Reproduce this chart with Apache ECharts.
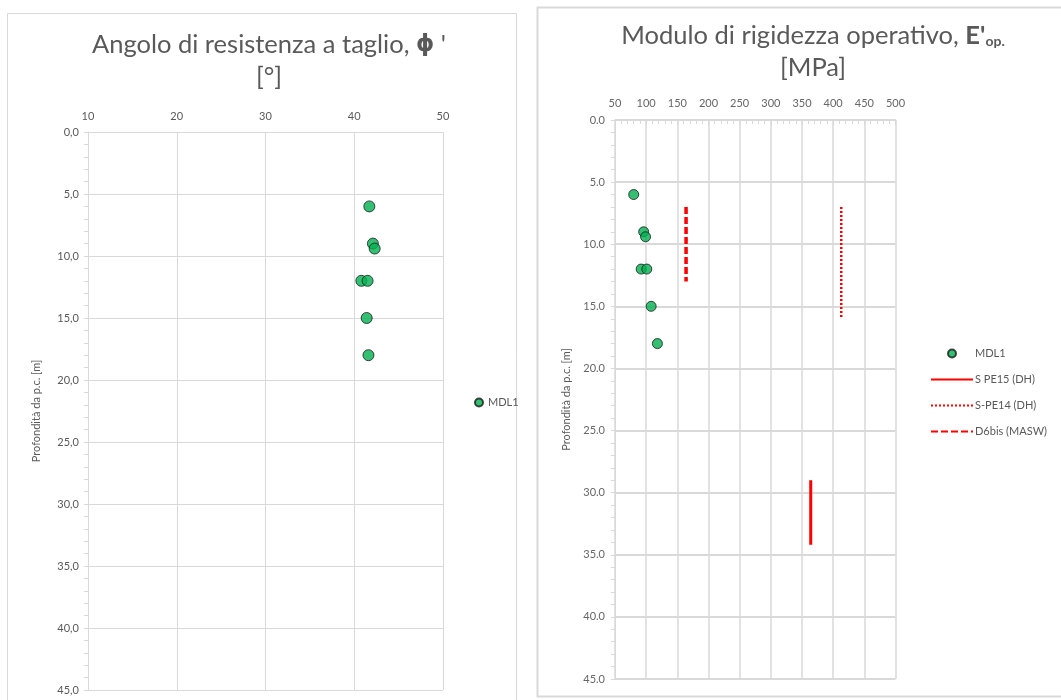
<!DOCTYPE html>
<html><head><meta charset="utf-8">
<script src="https://cdn.jsdelivr.net/npm/echarts@6/dist/echarts.min.js"></script>
<style>html,body{margin:0;padding:0;background:#fff}#c{width:1061px;height:700px}</style>
</head><body><div id="c"></div>
<script>
// ---- data ----
const phiDepth = [6.0, 9.0, 9.4, 12.0, 12.0, 15.0, 18.0];
const phiValues = [41.7, 42.1, 42.3, 40.8, 41.5, 41.4, 41.6];
const eDepth = [6.0, 9.0, 9.4, 12.0, 12.0, 15.0, 18.0];
const eValues = [80, 96, 99, 92, 101, 108, 118];
const spe15E = [364, 364];
const spe15Depth = [29, 34.2];
const spe14E = [413, 413];
const spe14Depth = [7, 16];
const d6bisE = [164, 164];
const d6bisDepth = [7, 13];
const seriesNames = ['MDL1', 'S PE15 (DH)', 'S-PE14 (DH)', 'D6bis (MASW)'];
const yAxisName = 'Profondità da p.c. [m]';

const pairs = (xs, ys) => xs.map((x, i) => [x, ys[i]]);

const GRID = '#d9d9d9';
const TXT = '#595959';
const FONT = 'Lato';
const TFS = 25.5;

const chart = echarts.init(document.getElementById('c'), null, {renderer: 'canvas'});
chart.setOption({
  animation: false,
  backgroundColor: '#fff',
  textStyle: {fontFamily: FONT},
  graphic: [
    {type: 'rect', shape: {x: 7.5, y: 13.5, width: 509, height: 700}, style: {fill: 'none', stroke: GRID, lineWidth: 1}, z: -1},
    {type: 'rect', shape: {x: 537.5, y: 7.5, width: 540, height: 689}, style: {fill: 'none', stroke: GRID, lineWidth: 2}, z: -1}
  ],
  title: [
    {
      text: "Angolo di resistenza a taglio, {b|ϕ} '\n[°]",
      left: 269, top: 29, textAlign: 'center', padding: 0,
      textStyle: {fontFamily: FONT, fontSize: TFS, fontWeight: 'normal', color: TXT, lineHeight: 32,
        rich: {b: {fontFamily: 'DejaVu Sans', fontWeight: 'bold', fontSize: 23, color: TXT, lineHeight: 32}}}
    },
    {
      text: "Modulo di rigidezza operativo, {b|E'}{s|op.}\n[MPa]",
      left: 813, top: 20, textAlign: 'center', padding: 0,
      textStyle: {fontFamily: FONT, fontSize: TFS, fontWeight: 'normal', color: TXT, lineHeight: 32,
        rich: {
          b: {fontFamily: FONT, fontWeight: 'bold', fontSize: TFS, color: TXT, lineHeight: 32},
          s: {fontFamily: FONT, fontWeight: 'bold', fontSize: 14, color: TXT, lineHeight: 32, padding: [11, 0, 0, 0]}
        }}
    }
  ],
  legend: [
    {
      data: ['MDL1'], orient: 'vertical', left: 474, top: 397, padding: 0,
      itemWidth: 8, itemHeight: 8, icon: 'circle',
      textStyle: {fontFamily: FONT, fontSize: 11, color: TXT}
    },
    {
      data: [
        {name: seriesNames[0]},
        {name: seriesNames[1], itemStyle: {opacity: 0}},
        {name: seriesNames[2], itemStyle: {opacity: 0}},
        {name: seriesNames[3], itemStyle: {opacity: 0}}
      ],
      orient: 'vertical', left: 930, top: 348, padding: 0,
      itemWidth: 42, itemHeight: 8, itemGap: 15,
      textStyle: {fontFamily: FONT, fontSize: 11, color: TXT, padding: [0, 0, 0, -3]}
    }
  ],
  grid: [
    {left: 88, top: 132, width: 355, height: 558},
    {left: 615, top: 120, width: 280.5, height: 559}
  ],
  xAxis: [
    {
      gridIndex: 0, type: 'value', position: 'top', min: 10, max: 50, interval: 10,
      axisLine: {show: true, lineStyle: {color: GRID}},
      axisTick: {show: false},
      axisLabel: {color: TXT, fontSize: 11, margin: 10},
      splitLine: {show: true, lineStyle: {color: GRID, width: 1}}
    },
    {
      gridIndex: 1, type: 'value', position: 'top', min: 50, max: 500, interval: 50,
      axisLine: {show: true, lineStyle: {color: GRID, width: 1.5}},
      axisTick: {show: true, inside: true, length: 5, lineStyle: {color: GRID}},
      minorTick: {show: true, splitNumber: 5, length: 4, lineStyle: {color: GRID}},
      axisLabel: {color: '#666', fontSize: 11, margin: 11},
      splitLine: {show: true, lineStyle: {color: GRID, width: 1.5}}
    }
  ],
  yAxis: [
    {
      gridIndex: 0, type: 'value', inverse: true, min: 0, max: 45, interval: 5,
      name: yAxisName, nameLocation: 'middle', nameGap: 46, nameRotate: 90,
      nameTextStyle: {color: TXT, fontSize: 11, fontFamily: FONT},
      axisLine: {show: true, lineStyle: {color: GRID}},
      axisTick: {show: true, length: 4, lineStyle: {color: GRID}},
      minorTick: {show: true, splitNumber: 5, length: 4, lineStyle: {color: GRID}},
      axisLabel: {color: TXT, fontSize: 11, margin: 9, formatter: v => v.toFixed(1).replace('.', ',')},
      splitLine: {show: true, lineStyle: {color: GRID, width: 1}}
    },
    {
      gridIndex: 1, type: 'value', inverse: true, min: 0, max: 45, interval: 5,
      name: yAxisName, nameLocation: 'middle', nameGap: 43, nameRotate: 90,
      nameTextStyle: {color: TXT, fontSize: 11, fontFamily: FONT},
      axisLine: {show: true, lineStyle: {color: GRID}},
      axisTick: {show: true, length: 4, lineStyle: {color: GRID}},
      minorTick: {show: true, splitNumber: 5, length: 4, lineStyle: {color: GRID}},
      axisLabel: {color: '#666', fontSize: 11, margin: 10, formatter: v => v.toFixed(1)},
      splitLine: {show: true, lineStyle: {color: GRID, width: 2}}
    }
  ],
  series: [
    {
      name: 'MDL1', type: 'scatter', xAxisIndex: 0, yAxisIndex: 0,
      data: pairs(phiValues, phiDepth), symbolSize: 11,
      itemStyle: {color: '#00b050', borderColor: '#1a1a1a', borderWidth: 1}
    },
    {
      name: 'MDL1', type: 'scatter', xAxisIndex: 1, yAxisIndex: 1,
      data: pairs(eValues, eDepth), symbolSize: 10,
      itemStyle: {color: '#00b050', borderColor: '#1a1a1a', borderWidth: 1}
    },
    {
      name: 'S PE15 (DH)', type: 'line', xAxisIndex: 1, yAxisIndex: 1,
      data: pairs(spe15E, spe15Depth), symbol: 'none', showSymbol: false,
      itemStyle: {color: '#ff0000'},
      lineStyle: {color: '#ff0000', width: 3, type: 'solid'}
    },
    {
      name: 'S-PE14 (DH)', type: 'line', xAxisIndex: 1, yAxisIndex: 1,
      data: pairs(spe14E, spe14Depth), symbol: 'none', showSymbol: false,
      itemStyle: {color: '#ff0000'},
      lineStyle: {color: '#ff0000', width: 2.5, type: [2, 2]}
    },
    {
      name: 'D6bis (MASW)', type: 'line', xAxisIndex: 1, yAxisIndex: 1,
      data: pairs(d6bisE, d6bisDepth), symbol: 'none', showSymbol: false,
      itemStyle: {color: '#ff0000'},
      lineStyle: {color: '#ff0000', width: 3.5, type: [7, 3]}
    }
  ]
});
</script>
</body></html>
